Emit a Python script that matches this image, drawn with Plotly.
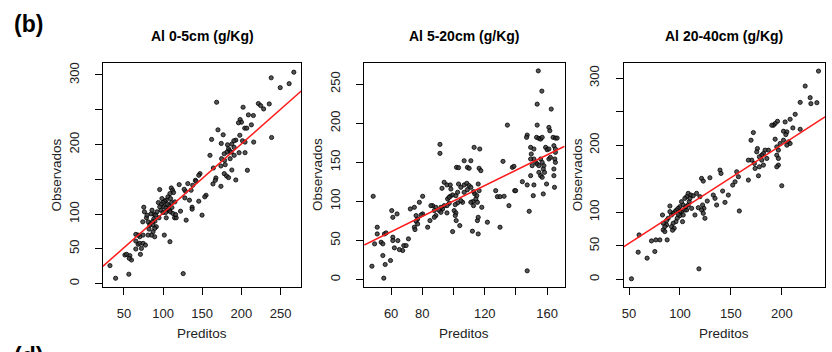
import plotly.graph_objects as go

# ---------------- data ----------------
titles = ["Al 0-5cm (g/Kg)", "Al 5-20cm (g/Kg)", "Al 20-40cm (g/Kg)"]
x_label = "Preditos"
y_label = "Observados"

p1_pred = [267, 238.1, 261, 249.6, 168.4, 221.7, 224.6, 235.6, 228.4, 202.2, 209, 215.3, 198.4, 200.1, 196.3,
           212.8, 204.3, 206.9, 170.1, 176.8, 162, 198, 192.9, 190.4, 201.4, 238.6, 215.7, 174.3, 182.3, 187.8,
           183.6, 184.9, 181.5, 187, 197.1, 204.7, 178.1, 159.9, 185.7, 190.8, 178.5, 179.4, 173.9, 164.2, 207.7,
           187.8, 178.1, 181.1, 183.6, 167.5, 166.7, 163.7, 173.9, 192.9, 147.2, 145.6, 141.3, 142.2, 131.6, 120.6,
           137.9, 135.8, 128.6, 127, 127.8, 133.7, 145.6, 154.9, 153.2, 137.1, 137.1, 122.3, 149.8, 129.5, 95.7,
           110.5, 112.2, 113.4, 108.8, 106.2, 109.6, 104.1, 102, 99.9, 94, 97.8, 107.1, 110.9, 115.1, 101.2, 103.7,
           106.2, 108.3, 97.4, 99.9, 103.3, 109.2, 112.6, 92.3, 88.5, 90.6, 84.7, 94.8, 88.1, 89.7, 86.4, 83.4, 87.2,
           91.4, 89.3, 83, 82.1, 74.1, 78.8, 76.2, 75.4, 104.1, 114.7, 116.8, 87.2, 89.3, 85.1, 80.9, 74.5, 70.3,
           68.2, 65.2, 65.2, 68.2, 70.3, 74.5, 77.5, 72.4, 65.2, 71.1, 51.3, 53.4, 57.6, 59.7, 56.8, 101.6, 108.8,
           32.2, 39.4, 56.3, 125.7, 98.6, 105.4, 95.7, 111.3, 116, 85.9, 80.9, 79.6, 190.8, 204.7, 174.7]
p1_obs = [304, 296, 287.5, 281.8, 260.8, 258.9, 256, 258.4, 251.2, 253.6, 242.6, 241.7, 235.9, 232.1, 231.2,
          228.3, 223.5, 223.5, 221.1, 214, 207.3, 213.3, 206.3, 205.4, 205.4, 210.1, 203.5, 201.5, 199.6, 200.6,
          193.9, 191, 189.1, 189.1, 188.2, 188.2, 186.7, 184.4, 179.6, 184.4, 177.2, 171, 169.1, 166.2, 162.9,
          163.3, 158.1, 154.7, 152.4, 151.9, 148.5, 143.3, 139.9, 149, 158.1, 155.7, 148.5, 147.1, 143.8, 142.3,
          141.4, 134.2, 132.8, 135.6, 123.2, 119.9, 118.4, 127, 124.7, 109.8, 107, 104.1, 98.4, 91.2, 135.2,
          137.5, 134.2, 130.9, 129.4, 124.7, 122.3, 119.9, 118.4, 116.5, 116.5, 113.7, 112.7, 116.5, 117.5, 110.3,
          108.9, 105.5, 105.5, 105.5, 102.2, 102.2, 103.2, 100.8, 103.2, 99.3, 98.4, 100.3, 94.6, 92.7, 89.8, 88.8,
          86.4, 84.1, 81.7, 79.3, 84.1, 78.3, 88.8, 94.6, 103.2, 109.8, 94.6, 94.6, 94.6, 74.5, 67.3, 69.7, 69.7,
          69.7, 67.3, 69.7, 70.7, 61.1, 56.4, 57.8, 57.8, 55.4, 50.6, 49.7, 42, 41.1, 42, 40.1, 33.9, 36.3, 69.7,
          60.2, 25.8, 7.6, 13.4, 14.3, 122.3, 114.1, 110.3, 109.4, 99.3, 105.5, 88.8, 98.4, 195.8, 203.5, 179.6]

p2_pred = [154.3, 156.6, 153.6, 162.6, 134.5, 91.3, 91.3, 113.2, 116.8, 147.2, 146.8, 153.6, 153.2, 154.7, 155.8,
           156.8, 161.1, 161.7, 163.8, 165.3, 166.4, 159, 160, 161.1, 164.3, 165.3, 149.4, 151.5, 149.8, 151.5,
           152.6, 153.6, 154.7, 155.8, 156.8, 157.9, 157.5, 158.3, 155.8, 156.8, 154.7, 149.4, 150.4, 161.1, 162.1,
           165.3, 164.9, 165.3, 164.3, 164.3, 164.7, 159.6, 157.5, 151.1, 151.5, 147.2, 149.4, 148.5, 144.1, 139.2,
           139.8, 135.5, 129.8, 128.1, 129.8, 132.4, 127, 131.7, 137.7, 138.7, 101.9, 103.2, 106.8, 111.1, 108.9,
           110, 116.4, 117.5, 94, 95.8, 97.9, 92.6, 98.3, 99.4, 97.9, 101.5, 102.6, 103.2, 104.7, 106.8, 108.5, 110,
           108.9, 106.8, 111.1, 112.8, 113.6, 114.9, 115.8, 116.4, 114.3, 115.3, 112.8, 112.3, 111.1, 105.8, 104.7,
           102.6, 101.1, 100.4, 101.5, 101.1, 101.7, 104, 99.4, 112.1, 115.8, 115.3, 115.8, 118.1, 121.7, 96.2, 97.2,
           97.2, 95.8, 94, 93, 91.9, 90.9, 88.7, 86.6, 85.5, 87.7, 91.9, 95.8, 88.7, 87.7, 84.9, 83.4, 80.2, 78.1,
           74.9, 72.3, 80.2, 79.2, 76, 77, 76, 77, 74.9, 75.3, 71.1, 68.1, 69.6, 67.4, 65.3, 62.1, 64.3, 61.1, 60.4,
           61.1, 63.8, 61.1, 55.7, 56.8, 51.1, 51.1, 49.4, 53.6, 54.7, 54.7, 56.2, 59.6, 55.3, 47.7, 48.5, 147.2]
p2_obs = [267, 241.1, 224.4, 218.1, 197.6, 172.9, 161.4, 169.1, 167, 184.8, 181.9, 197.6, 181.9, 180.6, 179.7,
          181.9, 194.6, 190.4, 181.9, 181, 181, 169.1, 166.1, 167, 171.2, 167, 169.1, 167, 160.6, 154.2, 149.9,
          147.8, 145.7, 154.2, 149.9, 145.7, 141.4, 137.1, 132.9, 130.8, 137.1, 154.2, 145.7, 154.2, 156.3, 162.7,
          154.2, 149.9, 141.4, 132.9, 118, 122.2, 109.5, 107.3, 121, 121, 132.9, 87.3, 125.2, 113.7, 113.7, 94.5,
          66.9, 106, 106, 106.5, 113.7, 151.2, 143.5, 144.8, 143.5, 143.1, 152, 152, 143.5, 142.3, 142.3, 139.3,
          124.4, 121, 121, 116.7, 115.8, 108.2, 106.5, 107.3, 111.6, 122.2, 118, 121, 123.1, 120.1, 115, 111.6,
          118, 112.4, 109.5, 107.3, 122.2, 113.7, 103.1, 98.8, 94.5, 99.7, 98.8, 98.8, 100.9, 98, 95.8, 88.2, 85.2,
          81.8, 75.4, 69, 61.3, 61.8, 58.3, 75.4, 79.6, 92.4, 73.3, 103.1, 105.2, 97.5, 94.5, 94.5, 90.3, 92.4,
          88.2, 92.4, 94.5, 94.5, 88.2, 86, 85.2, 81.8, 79.6, 75.4, 66.9, 106.5, 98.8, 92.4, 90.3, 83.9, 82.6, 81.8,
          77.5, 74.5, 71.1, 66.9, 63.9, 52, 43.4, 43.4, 37.1, 38.3, 40.5, 49.8, 54.1, 88.2, 79.6, 83.9, 49.8, 58.3,
          59.6, 66.9, 58.3, 45.6, 47.7, 45.6, 30.7, 19.2, 24.3, 1.7, 17, 106.5, 11.1]

p3_pred = [236.1, 223, 227.9, 218.1, 228.6, 234.5, 213.2, 208.2, 203.3, 195.8, 193.5, 191.8, 190.2, 201.7, 205,
           210.9, 218.1, 204, 193.5, 201.7, 206.6, 208.2, 205, 198.4, 195.1, 196.7, 186.9, 183.6, 182, 180.3, 176.1,
           172.1, 169.8, 175.4, 178, 180.3, 182, 185.3, 195.1, 196.7, 196.7, 195.1, 200, 177.1, 167.2, 170.5, 167.2,
           173.1, 173.8, 178, 155.7, 157.4, 154.1, 151.8, 158.3, 139.3, 140.3, 129.4, 121.2, 122.9, 141.9, 147.5,
           144.2, 132.7, 134.4, 136, 126.8, 123.5, 121.2, 122.9, 124.5, 114.7, 108.1, 110.7, 106.5, 104.8, 108.1,
           111.4, 103.2, 101.5, 99.9, 98.3, 96.6, 95, 93.3, 91.7, 90.1, 90.1, 101.5, 103.2, 99.9, 97.3, 96, 93.3,
           91.7, 94.3, 92.7, 86.8, 83.5, 82.8, 85.1, 83.5, 85.1, 80.2, 87.4, 76.3, 72, 75.3, 67.7, 58.9, 59.8, 52.3,
           118.6, 104.8, 99.9, 109.1, 106.5, 102.5, 88.4, 86.8, 109.8, 113, 116.3, 119.6, 122.2, 118, 98.3, 105.8]
p3_obs = [310.4, 288.1, 270.8, 263.8, 261.9, 263.3, 246, 238.6, 234.6, 235.6, 232.2, 229.7, 229.7, 220.8, 219.8,
          225.7, 223.7, 215.8, 208.9, 207.4, 204.9, 202.5, 200, 202.5, 197.5, 192.6, 192.6, 192.6, 187.6, 185.1,
          195, 218.8, 207.4, 190.1, 182.7, 177.7, 170.3, 180.2, 185.1, 180.2, 170.3, 167.8, 139.6, 154.4, 148,
          177.7, 177.7, 172.8, 165.3, 167.8, 160.4, 153, 145.5, 140.6, 102, 162.9, 157.9, 151.5, 150.5, 146.5,
          131.7, 125.7, 114.8, 125.7, 120.8, 110.9, 116.8, 105.9, 103.5, 98.5, 91.1, 96, 128.2, 125.7, 123.3, 120.8,
          110.9, 105.9, 110.9, 115.8, 108.4, 105.9, 103.5, 101, 98.5, 96, 101, 109.4, 101, 96, 95, 91.1, 86.1, 83.7,
          78.7, 76.2, 73.3, 81.2, 83.7, 96, 78.7, 73.8, 71.3, 58.9, 58.9, 58.9, 57.4, 41.6, 31.7, 40.6, 66.3, 1,
          15.8, 103.5, 101, 115.8, 103.5, 86.1, 91.1, 87.6, 120.8, 124.7, 128.2, 123.3, 110.9, 106.9, 97, 108.4]

# fitted red lines: (intercept, slope)
line_coefs = [(1.8, 0.995), (2.2, 0.983), (5.1, 0.977)]

x_ranges = [[23.0, 276.5], [42.7, 171.2], [44.5, 242.5]]
y_ranges = [[-4.5, 317.5], [-9.2, 277.3], [-10.8, 322.7]]

x_tickvals = [[50, 100, 150, 200, 250], [60, 80, 100, 120, 140, 160], [50, 100, 150, 200]]
x_ticktext = [["50", "100", "150", "200", "250"], ["60", "80", "", "120", "", "160"], ["50", "100", "150", "200"]]
y_tickvals = [[0, 50, 100, 150, 200, 250, 300], [0, 50, 100, 150, 200, 250], [0, 50, 100, 150, 200, 250, 300]]
y_ticktext = [["0", "50", "100", "", "200", "", "300"], ["0", "50", "100", "150", "200", "250"],
              ["0", "50", "100", "", "200", "", "300"]]

# ---------------- layout ----------------
W, H = 832, 352
x_domains_px = [(101, 300), (363, 564), (623, 825)]
y_domain_px = (62, 286.5)

FONT = "Liberation Sans, Arial, sans-serif"

fig = go.Figure()
series = [(p1_pred, p1_obs), (p2_pred, p2_obs), (p3_pred, p3_obs)]

annotations = []
for i, ((xs, ys), (a, b)) in enumerate(zip(series, line_coefs)):
    n = "" if i == 0 else str(i + 1)
    xa, ya = "x" + n, "y" + n
    fig.add_trace(go.Scatter(
        x=xs, y=ys, mode="markers", xaxis=xa, yaxis=ya, showlegend=False,
        marker=dict(size=4.2, color="rgba(55,55,55,0.85)", line=dict(width=0.8, color="black")),
        hoverinfo="skip"))
    x0, x1 = x_ranges[i]
    fig.add_trace(go.Scatter(
        x=[x0, x1], y=[a + b * x0, a + b * x1], mode="lines", xaxis=xa, yaxis=ya,
        showlegend=False, line=dict(color="#ff1a1a", width=1.5), hoverinfo="skip"))

    dx = [x_domains_px[i][0] / W, x_domains_px[i][1] / W]
    dy = [1 - y_domain_px[1] / H, 1 - y_domain_px[0] / H]
    common = dict(showgrid=False, zeroline=False, showline=True, mirror=True,
                  linecolor="black", linewidth=1, ticks="outside", ticklen=7,
                  tickcolor="black", tickwidth=1,
                  tickfont=dict(family=FONT, size=13, color="#222"))
    fig.update_layout(**{
        "xaxis" + n: dict(domain=dx, range=x_ranges[i], anchor=ya,
                          tickvals=x_tickvals[i], ticktext=x_ticktext[i],
                          ticklabelstandoff=8, **common),
        "yaxis" + n: dict(domain=dy, range=y_ranges[i], anchor=xa,
                          tickvals=y_tickvals[i], ticktext=y_ticktext[i],
                          tickangle=-90, ticklabelstandoff=11, **common),
    })
    cx = (x_domains_px[i][0] + x_domains_px[i][1]) / 2 / W
    annotations.append(dict(text="<b>" + titles[i] + "</b>", x=cx, y=1 - 35.5 / H,
                            xref="paper", yref="paper", showarrow=False,
                            font=dict(family=FONT, size=14, color="black"),
                            xanchor="center", yanchor="middle"))
    annotations.append(dict(text=x_label, x=cx, y=1 - 333 / H, xref="paper", yref="paper",
                            showarrow=False, font=dict(family=FONT, size=13.5, color="#222"),
                            xanchor="center", yanchor="middle"))
    ylx = (x_domains_px[i][0] - 46) / W
    cy = 1 - (y_domain_px[0] + y_domain_px[1]) / 2 / H
    annotations.append(dict(text=y_label, x=ylx, y=cy, xref="paper", yref="paper",
                            showarrow=False, textangle=-90,
                            font=dict(family=FONT, size=13.5, color="#222"),
                            xanchor="center", yanchor="middle"))

annotations.append(dict(text="<b>(b)</b>", x=27 / W, y=1 - 23 / H, xref="paper", yref="paper",
                        showarrow=False, font=dict(family=FONT, size=23, color="black"),
                        xanchor="center", yanchor="middle"))
# partially visible next panel label at the bottom edge, as in the reference
annotations.append(dict(text="<b>(d)</b>", x=27 / W, y=1 - 341 / H, xref="paper", yref="paper",
                        showarrow=False, font=dict(family=FONT, size=23, color="black"),
                        xanchor="center", yanchor="top"))

fig.update_layout(width=W, height=H, margin=dict(l=0, r=0, t=0, b=0),
                  paper_bgcolor="white", plot_bgcolor="white",
                  annotations=annotations)

fig.write_html("out.html")
